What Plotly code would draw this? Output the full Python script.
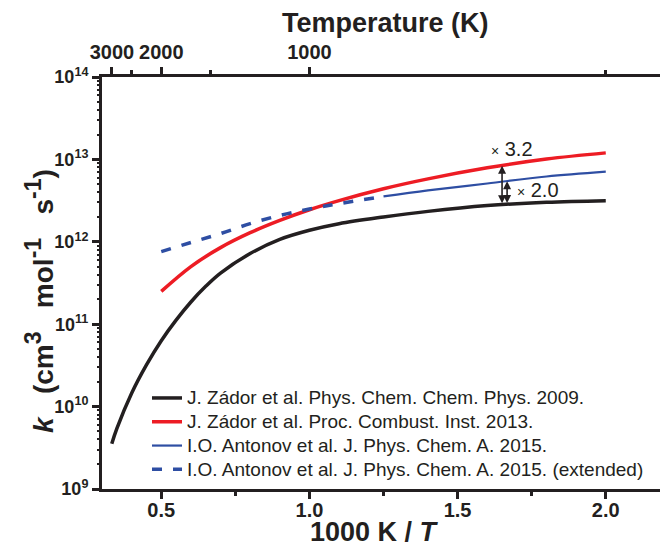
import numpy as np
import plotly.graph_objects as go

# ---- data (x = 1000 K / T, k in cm^3 mol^-1 s^-1) ----
zador2009_x = [0.333, 0.35, 0.40, 0.45, 0.50, 0.55, 0.60, 0.65, 0.70, 0.80, 0.90, 1.00, 1.10, 1.25, 1.40, 1.60, 1.80, 2.00]
zador2009_k = [3.55e9, 5.4e9, 1.45e10, 3.2e10, 6.3e10, 1.12e11, 1.86e11, 2.88e11, 4.17e11, 7.2e11, 1.07e12, 1.38e12, 1.66e12, 2.0e12, 2.34e12, 2.75e12, 3.02e12, 3.16e12]

zador2013_x = [0.50, 0.60, 0.70, 0.80, 0.90, 1.00, 1.10, 1.25, 1.40, 1.60, 1.80, 2.00]
zador2013_k = [2.5e11, 5.0e11, 8.5e11, 1.29e12, 1.82e12, 2.45e12, 3.16e12, 4.4e12, 5.8e12, 7.9e12, 1.01e13, 1.2e13]

antonov_x = [1.25, 1.40, 1.60, 1.80, 2.00]
antonov_k = [3.55e12, 4.2e12, 5.1e12, 6.2e12, 7.1e12]

antonov_ext_x = [0.50, 0.60, 0.70, 0.80, 0.90, 1.00, 1.10, 1.25]
antonov_ext_k = [7.6e11, 9.8e11, 1.26e12, 1.66e12, 2.09e12, 2.5e12, 2.9e12, 3.55e12]

names = ["J. Zádor et al. Phys. Chem. Chem. Phys. 2009.",
         "J. Zádor et al. Proc. Combust. Inst. 2013.",
         "I.O. Antonov et al. J. Phys. Chem. A. 2015.",
         "I.O. Antonov et al. J. Phys. Chem. A. 2015. (extended)"]

bottom_major = [0.5, 1.0, 1.5, 2.0]
bottom_minor = [0.75, 1.25, 1.75]
top_T_major = [3000, 2000, 1000]
top_T_minor = [2500, 1500, 500]
y_decades = [9, 10, 11, 12, 13, 14]

arrow1_x = 1.65   # x 3.2 arrow
arrow2_x = 1.667  # x 2.0 arrow
label1 = (1.605, 13.13)
label2 = (1.695, 12.63)

BLACK = "#231f20"
RED = "#ed1c24"
BLUE = "#2e4ea3"
FONT = "Liberation Sans, Arial, sans-serif"

# page body keeps its default 8 px margin; the figure is laid out to compensate
OFF = 8
W, H = 668, 553 - OFF
ML, MR, MT, MB = 102 - OFF, 0, 77 - OFF, 64
PW, PH = W - ML - MR, H - MT - MB
x_range = [0.3, 2.237]   # axes run off the right edge of the window, as in the original

def paper_x(px):
    return (px - OFF - ML) / PW

def paper_y(py):
    return (MT + PH - (py - OFF)) / PH

def legend_name(s):
    return f"<span style='font-size:19px'>{s}</span>"

fig = go.Figure()
fig.add_trace(go.Scatter(x=zador2009_x, y=zador2009_k, mode="lines", line=dict(color=BLACK, width=3.5, shape="spline"), name=legend_name(names[0])))
fig.add_trace(go.Scatter(x=zador2013_x, y=zador2013_k, mode="lines", line=dict(color=RED, width=3.5, shape="spline"), name=legend_name(names[1])))
fig.add_trace(go.Scatter(x=antonov_x, y=antonov_k, mode="lines", line=dict(color=BLUE, width=2.2, shape="spline"), name=legend_name(names[2])))
fig.add_trace(go.Scatter(x=antonov_ext_x, y=antonov_ext_k, mode="lines", line=dict(color=BLUE, width=3.5, dash="10px,11px", shape="spline"), name=legend_name(names[3])))
# invisible copy so the top temperature axis and the minor-tick axis get drawn
fig.add_trace(go.Scatter(x=zador2009_x, y=zador2009_k, mode="lines", xaxis="x2", yaxis="y2",
                         line=dict(width=0, color="rgba(0,0,0,0)"), showlegend=False, hoverinfo="skip"))

def logk(xs, ks, x0):
    return float(np.interp(x0, xs, np.log10(ks)))

arrow_common = dict(xref="x", yref="y", axref="x", ayref="y", showarrow=True, arrowhead=2,
                    arrowsize=1, arrowwidth=1.6, arrowcolor=BLACK, arrowside="end+start",
                    standoff=0, startstandoff=0, text="")
fig.add_annotation(x=arrow1_x, y=logk(zador2013_x, zador2013_k, arrow1_x),
                   ax=arrow1_x, ay=logk(zador2009_x, zador2009_k, arrow1_x), **arrow_common)
fig.add_annotation(x=arrow2_x, y=logk(antonov_x, antonov_k, arrow2_x),
                   ax=arrow2_x, ay=logk(zador2009_x, zador2009_k, arrow2_x), **arrow_common)
fig.add_annotation(x=label1[0], y=label1[1], xref="x", yref="y", showarrow=False, xanchor="left",
                   text="<span style='font-size:14px'>×</span> 3.2", font=dict(family=FONT, size=20, color=BLACK))
fig.add_annotation(x=label2[0], y=label2[1], xref="x", yref="y", showarrow=False, xanchor="left",
                   text="<span style='font-size:14px'>×</span> 2.0", font=dict(family=FONT, size=20, color=BLACK))

# axis titles as annotations (placed at window pixel positions)
titlefont = dict(family=FONT, size=27, color=BLACK, weight="bold")
fig.add_annotation(xref="paper", yref="paper", x=paper_x(374), y=paper_y(532),
                   text="1000 K / <i>T</i>", showarrow=False, font=titlefont, xanchor="center", yanchor="middle")
fig.add_annotation(xref="paper", yref="paper", x=paper_x(385), y=paper_y(23),
                   text="Temperature (K)", showarrow=False, font=titlefont, xanchor="center", yanchor="middle")
sup = "<sup><span style='font-size:23px'>{}</span></sup>"
fig.add_annotation(xref="paper", yref="paper", x=paper_x(39), y=paper_y(301), textangle=-90,
                   text="<i>k</i>   (cm" + sup.format("3") + "   mol" + sup.format("-1") + "   s" + sup.format("-1") + ")",
                   showarrow=False,
                   font=dict(family=FONT, size=28, color=BLACK, weight="bold"), xanchor="center", yanchor="middle")

xtickfont = dict(family=FONT, size=20, color=BLACK, weight="bold")
ytickfont = dict(family=FONT, size=18, color=BLACK, weight="bold")

y_minor = [m * 10.0 ** d for d in y_decades[:-1] for m in range(2, 10)]

fig.update_layout(
    width=W, height=H,
    margin=dict(l=ML, r=MR, t=MT, b=MB, autoexpand=False),
    paper_bgcolor="white", plot_bgcolor="white",
    showlegend=True,
    legend=dict(x=paper_x(147), y=0.262, xanchor="left", yanchor="top", bgcolor="rgba(0,0,0,0)",
                font=dict(family=FONT, size=16, color=BLACK), tracegroupgap=0, itemwidth=30),
    xaxis=dict(range=x_range, showline=True, linecolor=BLACK, linewidth=3, automargin=False,
               showgrid=False, zeroline=False, ticks="outside", ticklen=7, tickwidth=2.5, tickcolor=BLACK,
               tickmode="array", tickvals=bottom_major, ticktext=[f"{v:.1f}" for v in bottom_major],
               tickfont=xtickfont, ticklabelstandoff=-6,
               minor=dict(tickmode="array", tickvals=bottom_minor, ticks="outside", ticklen=4, tickwidth=2.5, tickcolor=BLACK)),
    xaxis2=dict(range=x_range, overlaying="x", side="top", showline=True, linecolor=BLACK, linewidth=3, automargin=False,
                showgrid=False, zeroline=False, ticks="outside", ticklen=7, tickwidth=2.5, tickcolor=BLACK,
                tickmode="array", tickvals=[1000.0 / T for T in top_T_major], ticktext=[str(T) for T in top_T_major],
                tickfont=xtickfont,
                minor=dict(tickmode="array", tickvals=[1000.0 / T for T in top_T_minor], ticks="outside", ticklen=4, tickwidth=2.5, tickcolor=BLACK)),
    yaxis=dict(type="log", range=[9, 14], showline=True, linecolor=BLACK, linewidth=3, automargin=False,
               showgrid=False, zeroline=False, ticks="outside", ticklen=7, tickwidth=2.5, tickcolor=BLACK,
               tickmode="array", tickvals=[10.0 ** d for d in y_decades],
               ticktext=[f"10<sup>{d}</sup>" for d in y_decades], tickfont=ytickfont),
    yaxis2=dict(type="log", range=[9, 14], overlaying="y", side="left", showline=False, automargin=False,
                showgrid=False, zeroline=False, ticks="outside", ticklen=4, tickwidth=2, tickcolor=BLACK,
                tickmode="array", tickvals=y_minor, showticklabels=False),
)

fig.write_html("out.html", config={"displayModeBar": False})
